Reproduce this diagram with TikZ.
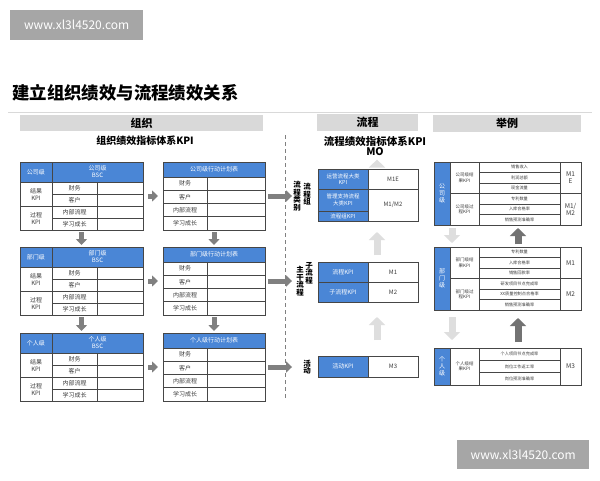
\documentclass[tikz,border=0pt]{standalone}
\usepackage{fontspec}
\setmainfont{Noto Sans CJK SC}
\usepackage{tikz}
\usetikzlibrary{arrows.meta}
\definecolor{kpiblue}{RGB}{74,134,214}
\definecolor{gridgray}{RGB}{70,70,70}
\definecolor{textgray}{RGB}{60,60,60}
\definecolor{headgray}{RGB}{217,217,217}
\definecolor{arrowgray}{RGB}{128,128,128}
\definecolor{lightgray}{RGB}{222,222,222}
\definecolor{darkgray}{RGB}{115,115,115}
\definecolor{markgray}{RGB}{166,166,166}
\tikzset{
    cell/.style={draw=gridgray, line width=0.6pt, anchor=north west, inner sep=0pt, outer sep=0pt,
        align=center, text=textgray, font=\fontsize{6}{7}\selectfont},
    bluecell/.style={cell, fill=kpiblue, text=white},
    frame/.style={draw=gridgray, line width=0.9pt, anchor=north west, inner sep=0pt, outer sep=0pt},
    headbox/.style={fill=headgray, anchor=north west, inner sep=0pt, font=\fontsize{11}{11}\bfseries},
    vtext/.style={align=center, inner sep=0pt, font=\fontsize{7.5}{7.5}\bfseries\selectfont},
    fatarrow/.style={line width=5pt, draw=arrowgray, -{Triangle[width=11pt,length=6pt]}},
    lightarrow/.style={line width=7pt, draw=lightgray, -{Triangle[width=16pt,length=8pt]}},
    darkarrow/.style={line width=7pt, draw=darkgray, -{Triangle[width=16pt,length=8pt]}},
    watermark/.style={fill=markgray, text=white, anchor=north west, inner sep=0pt, font=\fontsize{12}{12}\selectfont}
}
\begin{document}
\begin{tikzpicture}[x=1pt, y=-1pt]
    \useasboundingbox[fill=white] (0,0) rectangle (600,480);

    % watermarks and title
    \node[watermark, minimum width=133pt, minimum height=30pt] (markTop) at (10,10) {www.xl3l4520.com};
    \node[watermark, minimum width=132pt, minimum height=29pt] (markBottom) at (457,440) {www.xl3l4520.com};
    \node[anchor=west, inner sep=0pt, font=\fontsize{17.4}{17.4}\bfseries] (title) at (12,93) {建立组织绩效与流程绩效关系};
    \draw[headgray, line width=1pt] (8,112) -- (592,112);

    % column headers
    \node[headbox, minimum width=243pt, minimum height=16pt] (orgHead) at (20,115) {组织};
    \node[headbox, minimum width=101pt, minimum height=17pt] (prHead) at (317,114) {流程};
    \node[headbox, minimum width=148pt, minimum height=17pt] (exHead) at (433,115) {举例};
    \node[font=\fontsize{10}{10}\bfseries] (orgTitle) at (145,141) {组织绩效指标体系KPI};
    \node[font=\fontsize{10.5}{10.5}\bfseries] (prTitle) at (375,141) {流程绩效指标体系KPI};
    \node[font=\fontsize{10.5}{10.5}\bfseries] (mo) at (375,152) {MO};

    \draw[arrowgray, line width=0.8pt, dash pattern=on 4pt off 3pt] (285,135) -- (285,400);

    % BSC tables and action plans
    \foreach \lv/\ty/\nm in {co/162/公司级, dp/247/部门级, ps/333/个人级} {
        \node[bluecell, minimum width=32pt, minimum height=20pt] (\lv-b0) at (20,\ty) {\nm};
        \node[bluecell, minimum width=91pt, minimum height=20pt] (\lv-b1) at (52,\ty) {\nm\\BSC};
        \node[cell, minimum width=32pt, minimum height=24pt] (\lv-res) at (20,\ty+20) {结果\\KPI};
        \node[cell, minimum width=32pt, minimum height=24pt] (\lv-pro) at (20,\ty+44) {过程\\KPI};
        \foreach \t [count=\i from 0] in {财务,客户,内部流程,学习成长} {
            \node[cell, minimum width=45pt, minimum height=12pt] (\lv-p\i) at (52,\ty+20+12*\i) {\t};
            \node[cell, minimum width=46pt, minimum height=12pt] (\lv-v\i) at (97,\ty+20+12*\i) {};
            \node[cell, minimum width=44pt, minimum height=13.25pt] (\lv-q\i) at (163,\ty+15+13.25*\i) {\t};
            \node[cell, minimum width=58pt, minimum height=13.25pt] (\lv-w\i) at (207,\ty+15+13.25*\i) {};
        }
        \node[bluecell, minimum width=102pt, minimum height=15pt] (\lv-a0) at (163,\ty) {\nm 行动计划表};
        \node[frame, minimum width=123pt, minimum height=68pt] (\lv-bsc) at (20,\ty) {};
        \node[frame, minimum width=102pt, minimum height=68pt] (\lv-act) at (163,\ty) {};
        \draw[fatarrow, shorten <=5pt, shorten >=5pt] (\lv-bsc.east) -- (\lv-act.west);
    }
    \foreach \a/\b in {co/dp, dp/ps} {
        \draw[fatarrow, shorten <=2pt, shorten >=2pt] (\a-bsc.south) -- (\b-bsc.north);
        \draw[fatarrow, shorten <=2pt, shorten >=2pt] (\a-act.south) -- (\b-act.north);
    }

    % process levels
    \node[vtext] (co-lbl) at (297,196) {流\\程\\类\\别};
    \node[vtext, anchor=north] (co-lbl2) at (307,183) {流\\程\\组};
    \node[vtext] (dp-lbl) at (300,281) {主\\干\\流\\程};
    \node[vtext, anchor=north] (dp-lbl2) at (309,262) {子\\流\\程};
    \node[vtext] (ps-lbl) at (307,367) {活\\动};
    \draw[fatarrow, shorten <=3pt, shorten >=1pt] (co-act.east) -- (co-act.east -| co-lbl.west);
    \draw[fatarrow, shorten <=3pt, shorten >=4pt] (dp-act.east) -- (dp-act.east -| dp-lbl.west);
    \draw[fatarrow, shorten <=3pt, shorten >=11pt] (ps-act.east) -- (ps-act.east -| ps-lbl.west);

    % process KPI tables
    \node[bluecell, minimum width=50pt, minimum height=20pt, font=\fontsize{5.5}{6.5}\selectfont] (pr1-a) at (318,169) {运营流程大类\\KPI};
    \node[bluecell, minimum width=50pt, minimum height=22pt, font=\fontsize{5.5}{6.5}\selectfont] (pr1-b) at (318,189) {管理支持流程\\大类KPI};
    \node[bluecell, minimum width=50pt, minimum height=10pt, font=\fontsize{5.5}{6.5}\selectfont] (pr1-c) at (318,211) {流程组KPI};
    \node[cell, minimum width=50pt, minimum height=20pt] (pr1-m1) at (368,169) {M1E};
    \node[cell, minimum width=50pt, minimum height=32pt] (pr1-m2) at (368,189) {M1/M2};
    \node[frame, minimum width=100pt, minimum height=52pt] (pr1) at (318,169) {};

    \node[bluecell, minimum width=50pt, minimum height=20pt] (pr2-a) at (318,262) {流程KPI};
    \node[bluecell, minimum width=50pt, minimum height=20pt] (pr2-b) at (318,282) {子流程KPI};
    \node[cell, minimum width=50pt, minimum height=20pt] (pr2-m1) at (368,262) {M1};
    \node[cell, minimum width=50pt, minimum height=20pt] (pr2-m2) at (368,282) {M2};
    \node[frame, minimum width=100pt, minimum height=40pt] (pr2) at (318,262) {};

    \node[bluecell, minimum width=50pt, minimum height=21pt] (pr3-a) at (318,356) {活动KPI};
    \node[cell, minimum width=50pt, minimum height=21pt] (pr3-m) at (368,356) {M3};
    \node[frame, minimum width=100pt, minimum height=21pt] (pr3) at (318,356) {};

    \draw[lightarrow, shorten <=4pt] ([xshift=9pt]pr1.north) -- ([xshift=9pt]pr1.north |- mo.south);
    \draw[lightarrow, shorten <=7pt, shorten >=11pt] ([xshift=9pt]pr2.north) -- ([xshift=9pt]pr1.south);
    \draw[lightarrow, shorten <=16pt, shorten >=15pt] ([xshift=9pt]pr3.north) -- ([xshift=9pt]pr2.south);

    % examples
    \foreach \lv/\ty/\nm in {ex1/162/公司级, ex2/247/部门级} {
        \node[bluecell, minimum width=16pt, minimum height=63pt] (\lv-lv) at (434,\ty) {};
        \node[cell, minimum width=29pt, minimum height=31.5pt, font=\fontsize{4.5}{5.5}\selectfont] (\lv-res) at (450,\ty) {\nm 结\\果KPI};
        \node[cell, minimum width=29pt, minimum height=31.5pt, font=\fontsize{4.5}{5.5}\selectfont] (\lv-pro) at (450,\ty+31.5) {\nm 过\\程KPI};
    }
    \node[cell, minimum width=21pt, minimum height=31.5pt, font=\fontsize{6.5}{7.5}\selectfont] (ex1-m1) at (560,162) {M1\\E};
    \node[cell, minimum width=21pt, minimum height=31.5pt, font=\fontsize{6.5}{7.5}\selectfont] (ex1-m2) at (560,193.5) {M1/\\M2};
    \node[cell, minimum width=21pt, minimum height=31.5pt, font=\fontsize{6.5}{7.5}\selectfont] (ex2-m1) at (560,247) {M1};
    \node[cell, minimum width=21pt, minimum height=31.5pt, font=\fontsize{6.5}{7.5}\selectfont] (ex2-m2) at (560,278.5) {M2};
    \node[white, vtext, font=\fontsize{6}{7}\selectfont] (ex1-name) at (ex1-lv) {公\\司\\级};
    \node[white, vtext, font=\fontsize{6}{7}\selectfont] (ex2-name) at (ex2-lv) {部\\门\\级};
    \foreach \t [count=\i from 0] in {销售收入,利润总额,现金流量,专利数量,入库合格率,销售预测准确率}
        \node[cell, minimum width=81pt, minimum height=10.5pt, font=\fontsize{4.2}{5}\selectfont] (ex1-k\i) at (479,162+10.5*\i) {\t};
    \foreach \t [count=\i from 0] in {专利数量,入库合格率,销售回款率,研发项目节点完成率,XX质量控制点合格率,销售预测准确率}
        \node[cell, minimum width=81pt, minimum height=10.5pt, font=\fontsize{4.2}{5}\selectfont] (ex2-k\i) at (479,247+10.5*\i) {\t};
    \node[frame, minimum width=147pt, minimum height=63pt] (ex1) at (434,162) {};
    \node[frame, minimum width=147pt, minimum height=63pt] (ex2) at (434,247) {};

    \node[bluecell, minimum width=16pt, minimum height=37pt] (ex3-lv) at (434,348) {};
    \node[white, vtext, font=\fontsize{6}{7}\selectfont] (ex3-name) at (ex3-lv) {个\\人\\级};
    \node[cell, minimum width=29pt, minimum height=37pt, font=\fontsize{4.5}{5.5}\selectfont] (ex3-res) at (450,348) {个人级结\\果KPI};
    \foreach \t [count=\i from 0] in {个人项目节点完成率,岗位工作返工率,岗位预测准确率}
        \node[cell, minimum width=81pt, minimum height=12.33pt, font=\fontsize{4.2}{5}\selectfont] (ex3-k\i) at (479,348+12.33*\i) {\t};
    \node[cell, minimum width=21pt, minimum height=37pt, font=\fontsize{6.5}{7.5}\selectfont] (ex3-m) at (560,348) {M3};
    \node[frame, minimum width=147pt, minimum height=37pt] (ex3) at (434,348) {};

    \draw[lightarrow, shorten <=3pt, shorten >=4pt] ([xshift=18pt]ex1.south west) -- ([xshift=18pt]ex2.north west);
    \draw[darkarrow, shorten <=3pt, shorten >=3pt] ([xshift=84pt]ex2.north west) -- ([xshift=84pt]ex1.south west);
    \draw[lightarrow, shorten <=7pt, shorten >=8pt] ([xshift=18pt]ex2.south west) -- ([xshift=18pt]ex3.north west);
    \draw[darkarrow, shorten <=6pt, shorten >=8pt] ([xshift=84pt]ex3.north west) -- ([xshift=84pt]ex2.south west);

\end{tikzpicture}
\end{document}
